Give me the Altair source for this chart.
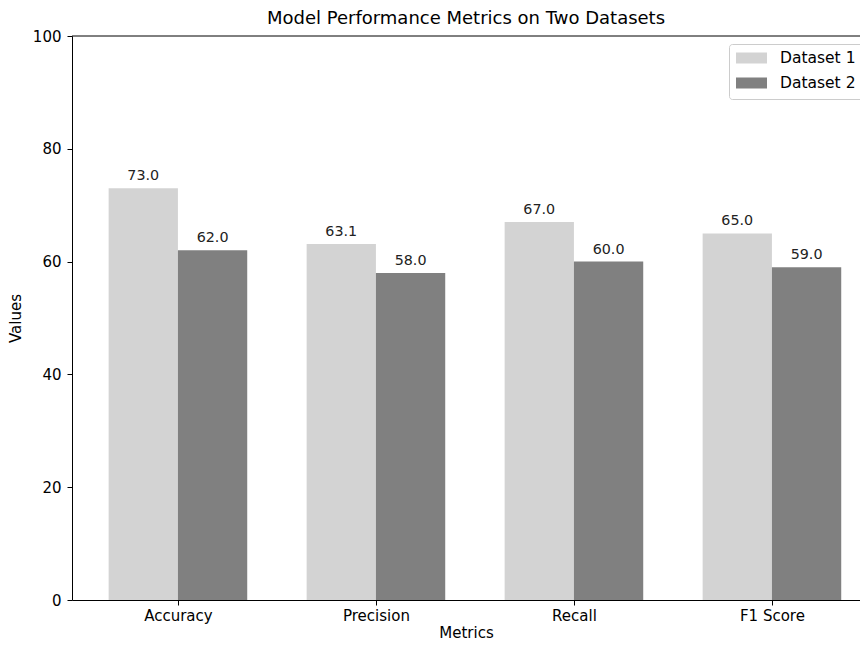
import altair as alt
import pandas as pd

metrics = ["Accuracy", "Precision", "Recall", "F1 Score"]
series = ["Dataset 1", "Dataset 2"]
dataset1 = [73.0, 63.1, 67.0, 65.0]
dataset2 = [62.0, 58.0, 60.0, 59.0]
colors = ["#d3d3d3", "#808080"]
y_ticks = [0, 20, 40, 60, 80, 100]

BAR_W = 0.35
FONT = "DejaVu Sans"

rows = []
for i, m in enumerate(metrics):
    for s, vals in enumerate([dataset1, dataset2]):
        rows.append({"idx": i, "metric": m, "s": s, "series": series[s], "value": vals[i]})
df = pd.DataFrame(rows)

label_expr = "[" + ",".join("'%s'" % m for m in metrics) + "][datum.value]"

x_scale = alt.Scale(domain=[-0.535, 3.4448], nice=False, zero=False)
y_scale = alt.Scale(domain=[0, 100], nice=False)

base = alt.Chart(df).transform_calculate(
    x0=f"datum.idx - {BAR_W} + datum.s * {BAR_W}",
    x1=f"datum.idx + datum.s * {BAR_W}",
    xc=f"datum.idx - {BAR_W / 2} + datum.s * {BAR_W}",
)

bars = base.mark_bar().encode(
    x=alt.X("x0:Q", scale=x_scale,
            axis=alt.Axis(values=list(range(len(metrics))), labelExpr=label_expr,
                          title="Metrics", grid=False)),
    x2="x1:Q",
    y=alt.Y("value:Q", scale=y_scale,
            axis=alt.Axis(values=y_ticks, title="Values", grid=False)),
    y2=alt.datum(0),
    color=alt.Color("series:N", scale=alt.Scale(domain=series, range=colors),
                    legend=alt.Legend(title=None, orient="none", legendX=657, legendY=8,
                                      symbolType="M-1,-0.35H1V0.35H-1Z", symbolSize=961,
                                      symbolStrokeWidth=0, clipHeight=14, rowPadding=9,
                                      labelFontSize=15.5, labelFont=FONT, labelOffset=13,
                                      labelColor="black", padding=7,
                                      fillColor="rgba(255,255,255,0.8)", strokeColor="#cccccc",
                                      cornerRadius=3)),
)

labels = base.mark_text(dy=-8, baseline="alphabetic", fontSize=14.3, font=FONT, color="#222222").encode(
    x=alt.X("xc:Q", scale=x_scale),
    y=alt.Y("value:Q", scale=y_scale),
    text=alt.Text("value:Q", format=".1f"),
)

top_df = pd.DataFrame({"top": [100]})
top_rule = alt.Chart(top_df).mark_rule(color="black", strokeWidth=1).encode(
    y=alt.Y("top:Q", scale=y_scale)
)

chart = alt.layer(bars, labels, top_rule).properties(
    width=788,
    height=564,
    autosize="none",
    padding={"left": 64, "right": 0, "top": 28, "bottom": 40},
    title=alt.TitleParams("Model Performance Metrics on Two Datasets", fontSize=18,
                          font=FONT, fontWeight="normal", color="black", offset=1,
                          anchor="middle"),
).configure_view(stroke=None).configure_axis(
    domainColor="black", domainWidth=1, tickColor="black", tickSize=5, tickWidth=1,
    labelFont=FONT, labelFontSize=15, labelColor="black",
    titleFont=FONT, titleFontSize=15, titleFontWeight="normal", titleColor="black",
).configure_axisX(titlePadding=2, labelPadding=3, labelAngle=0).configure_axisY(
    titlePadding=9, labelPadding=6)

chart.save("out.html", embed_options={"renderer": "svg", "actions": False})
